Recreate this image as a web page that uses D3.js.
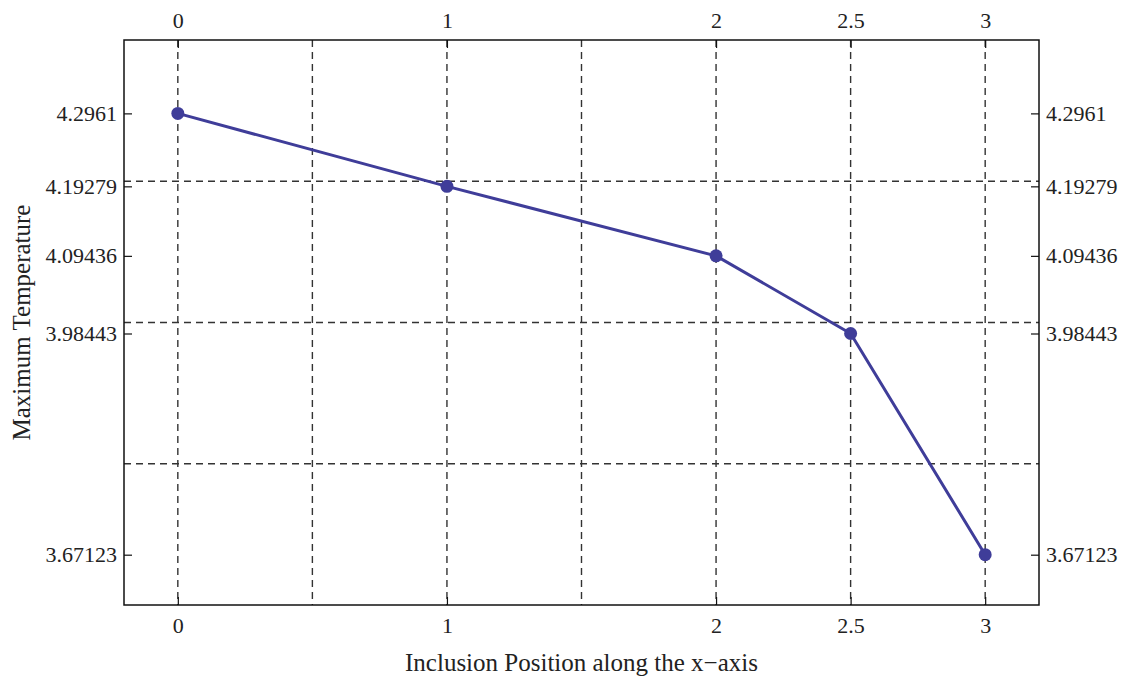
<!DOCTYPE html>
<html>
<head>
<meta charset="utf-8">
<script src="https://cdn.jsdelivr.net/npm/d3@7"></script>
<style>
  html, body { margin: 0; padding: 0; background: #fff; }
  svg { display: block; }
  text { font-family: "Liberation Serif", "Times New Roman", serif; fill: #222; }
</style>
</head>
<body>
<svg id="chart" width="1122" height="679"></svg>
<script>
// Inclusion position along x and the resulting maximum temperature
const positions = [0, 1, 2, 2.5, 3];
const maxTemps = [4.2961, 4.19279, 4.09436, 3.98443, 3.67123];

// Tick labels on the frame edges
const xTickValues = [0, 1, 2, 2.5, 3];
const yTickValues = [4.2961, 4.19279, 4.09436, 3.98443, 3.67123];
const yTickLabels = ["4.2961", "4.19279", "4.09436", "3.98443", "3.67123"];

// Grid line locations
const xGridValues = [0, 0.5, 1, 1.5, 2, 2.5, 3];
const yGridValues = [4.2, 4.0, 3.8];

const xDomain = [-0.2, 3.2];
const yDomain = [3.6, 4.4];

const svg = d3.select("#chart");
const plotL = 124, plotR = 1039, plotT = 40, plotB = 605;

const x = d3.scaleLinear().domain(xDomain).range([plotL, plotR]);
const y = d3.scaleLinear().domain(yDomain).range([plotB, plotT]);

const lineColor = "#3f3d99";
const gridColor = "#333";

// Dashed grid
const grid = svg.append("g");
grid.selectAll("line.vx").data(xGridValues).join("line")
  .attr("x1", d => x(d)).attr("x2", d => x(d))
  .attr("y1", plotT).attr("y2", plotB)
  .attr("stroke", gridColor).attr("stroke-width", 1.4)
  .attr("stroke-dasharray", "7,5");
grid.selectAll("line.hy").data(yGridValues).join("line")
  .attr("x1", plotL).attr("x2", plotR)
  .attr("y1", d => y(d)).attr("y2", d => y(d))
  .attr("stroke", gridColor).attr("stroke-width", 1.4)
  .attr("stroke-dasharray", "7,5");

// Axes on all four sides, ticks pointing inward
const fmtY = d => yTickLabels[yTickValues.indexOf(d)];
const axisStyle = g => {
  g.attr("font-size", null).attr("font-family", null);
  g.select(".domain").remove();
  g.selectAll(".tick line").attr("stroke", "#111").attr("stroke-width", 1.2);
  g.selectAll(".tick text").attr("fill", "#222")
    .style("font-size", "22px")
    .style("font-family", '"Liberation Serif", "Times New Roman", serif');
};

svg.append("g").attr("transform", `translate(0,${plotB})`)
  .call(d3.axisBottom(x).tickValues(xTickValues).tickFormat(d3.format("")).tickSizeInner(-8).tickSizeOuter(0).tickPadding(12))
  .call(axisStyle);
svg.append("g").attr("transform", `translate(0,${plotT})`)
  .call(d3.axisTop(x).tickValues(xTickValues).tickFormat(d3.format("")).tickSizeInner(-8).tickSizeOuter(0).tickPadding(12))
  .call(axisStyle);
svg.append("g").attr("transform", `translate(${plotL},0)`)
  .call(d3.axisLeft(y).tickValues(yTickValues).tickFormat(fmtY).tickSizeInner(-8).tickSizeOuter(0).tickPadding(7))
  .call(axisStyle);
svg.append("g").attr("transform", `translate(${plotR},0)`)
  .call(d3.axisRight(y).tickValues(yTickValues).tickFormat(fmtY).tickSizeInner(-8).tickSizeOuter(0).tickPadding(7))
  .call(axisStyle);

// Frame
svg.append("rect")
  .attr("x", plotL).attr("y", plotT)
  .attr("width", plotR - plotL).attr("height", plotB - plotT)
  .attr("fill", "none").attr("stroke", "#111").attr("stroke-width", 1.5);

// Data line and points
const pts = positions.map((p, i) => [p, maxTemps[i]]);
svg.append("path")
  .datum(pts)
  .attr("d", d3.line().x(d => x(d[0])).y(d => y(d[1])))
  .attr("fill", "none").attr("stroke", lineColor).attr("stroke-width", 3)
  .attr("stroke-linejoin", "round");
svg.selectAll("circle.pt").data(pts).join("circle")
  .attr("cx", d => x(d[0])).attr("cy", d => y(d[1])).attr("r", 6.5)
  .attr("fill", lineColor);

// Axis titles
svg.append("text")
  .attr("x", (plotL + plotR) / 2).attr("y", 671)
  .attr("text-anchor", "middle").style("font-size", "25px")
  .text("Inclusion Position along the x\u2212axis");
svg.append("text")
  .attr("transform", `translate(30,${(plotT + plotB) / 2}) rotate(-90)`)
  .attr("text-anchor", "middle").style("font-size", "25px")
  .text("Maximum Temperature");
</script>
</body>
</html>
